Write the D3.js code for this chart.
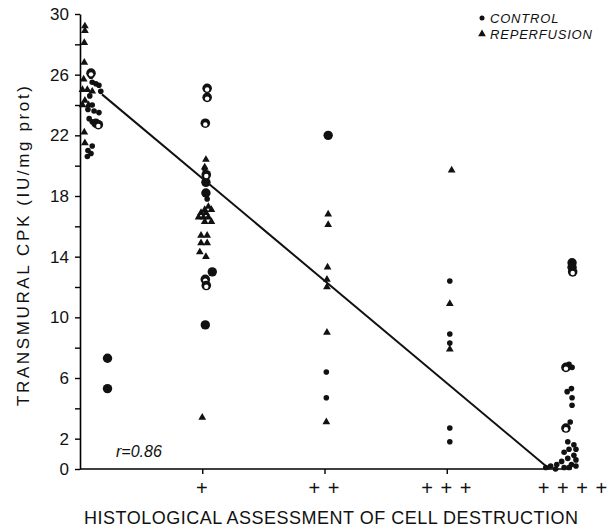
<!DOCTYPE html>
<html>
<head>
<meta charset="utf-8">
<script src="https://cdn.jsdelivr.net/npm/d3@7"></script>
<style>
  body { margin: 0; background: #fff; }
  text { font-family: "Liberation Sans", Arial, sans-serif; fill: #111; }
</style>
</head>
<body>
<div id="chart-area"></div>
<script>
// grade = histological category (0..4) with the small sideways offset
// control: small dots
var controlPts = [
    [0.09, 25.9], [0.10, 25.5], [0.13, 25.4], [0.155, 25.3], [0.17, 24.9], [0.08, 24.6],
    [0.10, 24.0], [0.065, 23.7], [0.115, 23.6], [0.155, 23.5], [0.075, 23.1], [0.10, 22.9],
    [0.10, 21.3], [0.065, 21.0], [0.09, 20.8], [0.06, 20.6],
    [1.02, 19.8], [1.04, 17.8],
    [2.015, 6.4], [2.015, 4.7],
    [3.025, 12.4], [3.025, 8.9], [3.025, 8.3], [3.025, 2.7], [3.025, 1.8],
    [4.0, 6.9], [4.025, 6.7], [3.985, 5.1], [4.02, 5.3], [4.025, 4.7], [4.025, 4.2], [4.01, 3.1],
    [4.04, 1.6], [3.99, 1.8], [4.057, 1.3], [4.0, 1.3], [3.96, 1.1], [4.04, 0.9], [3.99, 0.7],
    [4.057, 0.6], [3.94, 0.5], [4.02, 0.3], [3.90, 0.3], [3.85, 0.2], [3.81, 0.1], [3.96, 0.1],
    [4.057, 0.2], [3.89, 0.0], [4.0, 0.1]
];
// control: two coincident values (drawn bigger)
var controlDouble = [
    [0.13, 22.8], [0.225, 7.3], [0.225, 5.3],
    [1.03, 18.9], [1.03, 18.2], [1.082, 13.0], [1.025, 9.5],
    [2.03, 22.0],
    [4.025, 13.6], [4.025, 13.3]
];
// control: ringed values
var controlRing = [
    [0.09, 26.1], [0.15, 22.7],
    [1.04, 25.1], [1.04, 24.5], [1.025, 22.8], [1.033, 19.4], [1.025, 12.5], [1.033, 12.1],
    [4.03, 13.0], [3.975, 6.7], [3.975, 2.7]
];
var reperfPts = [
    [0.04, 29.2], [0.04, 28.9], [0.035, 28.1], [0.035, 26.8], [0.03, 25.7], [0.02, 25.0],
    [0.06, 25.0], [0.10, 24.9], [0.04, 24.3], [0.02, 24.0], [0.07, 24.0], [0.035, 22.2], [0.04, 21.5],
    [1.03, 20.4], [1.02, 19.9], [1.05, 17.3], [1.02, 17.1], [1.075, 17.1], [0.99, 16.9], [1.03, 16.9],
    [0.97, 16.6], [1.01, 16.6], [1.05, 16.6], [1.02, 16.3], [1.075, 16.3], [0.99, 15.4], [1.04, 15.4],
    [0.99, 14.9], [1.04, 14.9], [0.98, 14.3], [1.03, 14.0], [1.0, 3.4],
    [2.03, 16.8], [2.03, 16.1], [2.025, 13.3], [2.02, 12.5], [2.02, 12.0], [2.02, 9.0], [2.015, 3.1],
    [3.04, 19.7], [3.025, 10.9], [3.025, 7.9]
];
var fitLine = [[0.18, 24.7], [3.84, 0]];
var yTicks = d3.range(0, 31, 2);
var yLabelled = [0, 2, 6, 10, 14, 18, 22, 26, 30];
var xTicks = [1, 2, 3, 4];
var xTickLabels = ["+", "+ +", "+ + +", "+ + + +"];
var rText = "r=0.86";

var width = 614, height = 530;

var svg = d3.select("#chart-area")
    .append("svg")
        .attr("width", width)
        .attr("height", height);

// Scales
var x = d3.scaleLinear().domain([0, 4]).range([80, 569]);
var y = d3.scaleLinear().domain([0, 30]).range([469, 14]);

// Y Axis
var yAxisCall = d3.axisLeft(y)
    .tickValues(yTicks)
    .tickSize(5)
    .tickSizeOuter(0)
    .tickPadding(6)
    .tickFormat(function(d){ return yLabelled.indexOf(d) > -1 ? d : ""; });
var gy = svg.append("g")
    .attr("transform", "translate(" + x(0) + ",0)")
    .call(yAxisCall);
gy.select(".domain").attr("stroke-width", 1.6);
gy.selectAll(".tick line").attr("stroke-width", 1.4);
gy.selectAll(".tick text")
    .attr("font-size", "17px")
    .style("font-family", "'Liberation Sans', Arial, sans-serif");

// X Axis
var xAxisCall = d3.axisBottom(x)
    .tickValues(xTicks.slice(0, 3))
    .tickSize(5)
    .tickSizeOuter(0)
    .tickFormat("");
var gx = svg.append("g")
    .attr("transform", "translate(0," + y(0) + ")")
    .call(xAxisCall);
gx.select(".domain").attr("stroke-width", 1.6)
    .attr("d", "M" + x(0) + ",0H" + (x(4) + 2) + "V-6");
gx.selectAll(".tick line").attr("stroke-width", 1.4);

svg.append("g").selectAll("text")
    .data(xTicks)
    .enter().append("text")
        .attr("x", function(d){ return x(d) + (d === 4 ? 4 : 0); })
        .attr("y", 495)
        .attr("text-anchor", "middle")
        .attr("font-size", "20px")
        .attr("letter-spacing", "1px")
        .text(function(d, i){ return xTickLabels[i]; });

// Labels
svg.append("text")
    .attr("x", 84)
    .attr("y", 524)
    .attr("font-size", "18px")
    .attr("textLength", 494)
    .attr("lengthAdjust", "spacing")
    .text("HISTOLOGICAL ASSESSMENT OF CELL DESTRUCTION");

svg.append("text")
    .attr("transform", "translate(29,406) rotate(-90)")
    .attr("font-size", "17px")
    .attr("textLength", 320)
    .attr("lengthAdjust", "spacing")
    .text("TRANSMURAL CPK (IU/mg prot)");

svg.append("text")
    .attr("x", 116)
    .attr("y", 457)
    .attr("font-size", "16px")
    .attr("font-style", "italic")
    .text(rText);

// regression line
svg.append("path")
    .datum(fitLine)
    .attr("fill", "none")
    .attr("stroke", "#111")
    .attr("stroke-width", 2)
    .attr("d", d3.line()
        .x(function(d){ return x(d[0]); })
        .y(function(d){ return y(d[1]); }));

// points
var tri = d3.symbol().type(d3.symbolTriangle).size(26);

svg.append("g").selectAll("path")
    .data(reperfPts)
    .enter().append("path")
        .attr("d", tri)
        .attr("fill", "#111")
        .attr("transform", function(d){ return "translate(" + x(d[0]) + "," + y(d[1]) + ")"; });

svg.append("g").selectAll("circle")
    .data(controlPts)
    .enter().append("circle")
        .attr("cx", function(d){ return x(d[0]); })
        .attr("cy", function(d){ return y(d[1]); })
        .attr("r", 2.8)
        .attr("fill", "#111");

svg.append("g").selectAll("circle")
    .data(controlDouble)
    .enter().append("circle")
        .attr("cx", function(d){ return x(d[0]); })
        .attr("cy", function(d){ return y(d[1]); })
        .attr("r", 4.7)
        .attr("fill", "#111");

var rings = svg.append("g").selectAll("g")
    .data(controlRing)
    .enter().append("g")
        .attr("transform", function(d){ return "translate(" + x(d[0]) + "," + y(d[1]) + ")"; });
rings.append("circle")
    .attr("r", 4.8)
    .attr("fill", "#111");
rings.append("circle")
    .attr("cy", 1.2)
    .attr("r", 2.2)
    .attr("fill", "#fff");

// legend
var legend = svg.append("g").attr("transform", "translate(482,0)");
legend.append("circle")
    .attr("cx", 0).attr("cy", 18).attr("r", 2.5).attr("fill", "#111");
legend.append("path")
    .attr("d", tri)
    .attr("transform", "translate(0,34)")
    .attr("fill", "#111");
legend.append("text")
    .attr("x", 8).attr("y", 23)
    .attr("font-size", "13px")
    .attr("font-style", "italic")
    .attr("letter-spacing", "0.8px")
    .text("CONTROL");
legend.append("text")
    .attr("x", 8).attr("y", 39)
    .attr("font-size", "13px")
    .attr("font-style", "italic")
    .attr("letter-spacing", "0.8px")
    .text("REPERFUSION");
</script>
</body>
</html>
